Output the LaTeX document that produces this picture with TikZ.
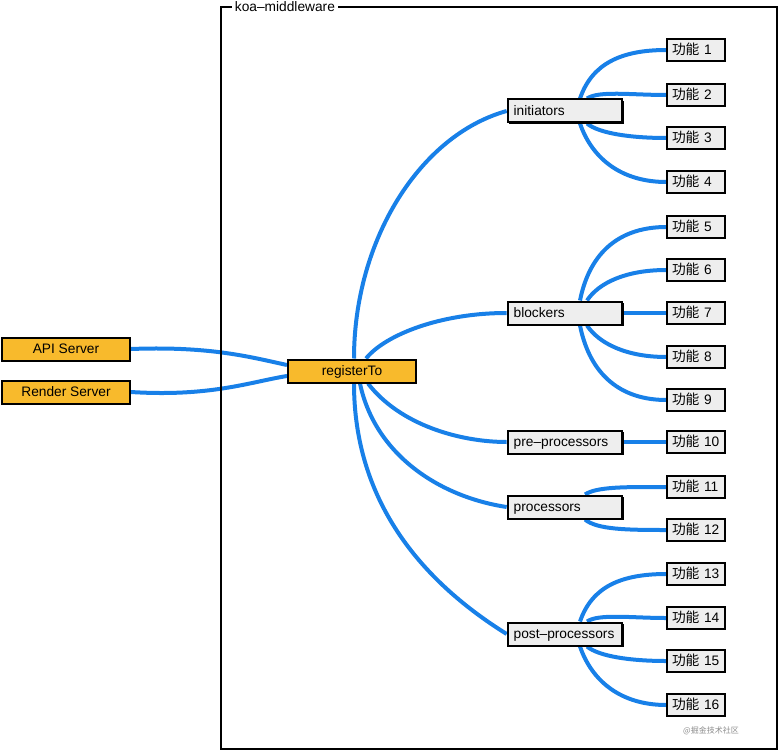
\documentclass[tikz,border=0pt]{standalone}
\usepackage{fontspec}
\setmainfont{Liberation Sans}
\newfontfamily\cjk{Noto Sans CJK SC}
\usetikzlibrary{calc,backgrounds,shadows}
\definecolor{linkblue}{RGB}{24,128,232}
\definecolor{srvorange}{RGB}{248,186,44}
\definecolor{boxgray}{RGB}{238,238,238}
\begin{document}
\begin{tikzpicture}[x=0.75pt,y=-0.75pt,
  box/.style={draw=black, line width=1.5pt, minimum height=17.25pt, inner ysep=0pt, text height=8.4pt, text depth=1pt, font=\fontsize{10.3}{12}\selectfont,
    drop shadow={shadow xshift=0.9pt, shadow yshift=-0.9pt, fill=black, opacity=1}},
  srv/.style={box, fill=srvorange, minimum width=96pt, inner xsep=0pt},
  mid/.style={box, fill=boxgray, text width=77pt, inner xsep=4.5pt, align=left},
  fn/.style={box, fill=boxgray, text width=36pt, inner xsep=3.5pt, align=left, minimum height=16.5pt},
  link/.style={draw=linkblue, line width=3pt},
  frame/.style={draw=black, line width=1.5pt}]
\useasboundingbox (0,0) rectangle (780,752);

% frame
\draw[frame] (221,7) rectangle (777,749);
\node[fill=white, inner xsep=2pt, inner ysep=1pt, anchor=west, font=\fontsize{10.3}{12}\selectfont] (title) at (232,7) {koa–middleware};

% nodes
\node[srv] (api) at (66,349) {API Server};
\node[srv] (rnd) at (66,392) {Render Server};
\node[srv] (reg) at (352,371) {registerTo};

\node[mid] (ini) at (565,111) {initiators};
\node[mid] (blk) at (565,313) {blockers};
\node[mid] (pre) at (565,442) {pre–processors};
\node[mid] (prc) at (565,507) {processors};
\node[mid] (pst) at (565,634) {post–processors};

\node[fn] (f1) at (696,50) {{\cjk 功能} 1};
\node[fn] (f2) at (696,95) {{\cjk 功能} 2};
\node[fn] (f3) at (696,138) {{\cjk 功能} 3};
\node[fn] (f4) at (696,182) {{\cjk 功能} 4};
\node[fn] (f5) at (696,227) {{\cjk 功能} 5};
\node[fn] (f6) at (696,270) {{\cjk 功能} 6};
\node[fn] (f7) at (696,313) {{\cjk 功能} 7};
\node[fn] (f8) at (696,357) {{\cjk 功能} 8};
\node[fn] (f9) at (696,400) {{\cjk 功能} 9};
\node[fn] (f10) at (696,442) {{\cjk 功能} 10};
\node[fn] (f11) at (696,487) {{\cjk 功能} 11};
\node[fn] (f12) at (696,530) {{\cjk 功能} 12};
\node[fn] (f13) at (696,574) {{\cjk 功能} 13};
\node[fn] (f14) at (696,618) {{\cjk 功能} 14};
\node[fn] (f15) at (696,661) {{\cjk 功能} 15};
\node[fn] (f16) at (696,705) {{\cjk 功能} 16};

\node[text=black!45, font=\cjk\fontsize{6}{7}\selectfont] (wm) at (711,731) {@掘金技术社区};

\begin{scope}[on background layer]
% servers to registerTo
\draw[link] (api.east) .. controls (210,346) and (250,357) .. ($(reg.west)+(0,-6)$);
\draw[link] (rnd.east) .. controls (210,397) and (250,382) .. ($(reg.west)+(0,5)$);
% registerTo to stages
\draw[link] ($(reg.north)+(2,0)$) .. controls (354,240) and (420,135) .. (ini.west);
\draw[link] ($(reg.north)+(14,0)$) .. controls (385,335) and (440,313) .. (blk.west);
\draw[link] ($(reg.south)+(16,0)$) .. controls (400,425) and (460,442) .. (pre.west);
\draw[link] ($(reg.south)+(8,0)$) .. controls (375,455) and (440,497) .. (prc.west);
\draw[link] ($(reg.south)+(2,0)$) .. controls (354,500) and (420,580) .. (pst.west);
% initiators
\draw[link] ($(ini.north)+(15,0)$) .. controls +(12,-35) and +(-45,0) .. (f1.west);
\draw[link] ($(ini.north)+(22,0)$) .. controls +(12,-8) and +(-35,0) .. (f2.west);
\draw[link] ($(ini.south)+(22,0)$) .. controls +(12,10) and +(-35,0) .. (f3.west);
\draw[link] ($(ini.south)+(15,0)$) .. controls +(12,35) and +(-45,0) .. (f4.west);
% blockers
\draw[link] ($(blk.north)+(15,0)$) .. controls +(10,-50) and +(-45,0) .. (f5.west);
\draw[link] ($(blk.north)+(22,0)$) .. controls +(12,-18) and +(-40,0) .. (f6.west);
\draw[link] (blk.east) -- (f7.west);
\draw[link] ($(blk.south)+(22,0)$) .. controls +(12,18) and +(-40,0) .. (f8.west);
\draw[link] ($(blk.south)+(15,0)$) .. controls +(10,50) and +(-45,0) .. (f9.west);
% pre-processors
\draw[link] (pre.east) -- (f10.west);
% processors
\draw[link] ($(prc.north)+(20,0)$) .. controls +(12,-8) and +(-40,0) .. (f11.west);
\draw[link] ($(prc.south)+(20,0)$) .. controls +(12,10) and +(-40,0) .. (f12.west);
% post-processors
\draw[link] ($(pst.north)+(15,0)$) .. controls +(12,-35) and +(-45,0) .. (f13.west);
\draw[link] ($(pst.north)+(22,0)$) .. controls +(12,-8) and +(-35,0) .. (f14.west);
\draw[link] ($(pst.south)+(22,0)$) .. controls +(12,10) and +(-35,0) .. (f15.west);
\draw[link] ($(pst.south)+(15,0)$) .. controls +(12,35) and +(-45,0) .. (f16.west);
\end{scope}
\end{tikzpicture}
\end{document}
